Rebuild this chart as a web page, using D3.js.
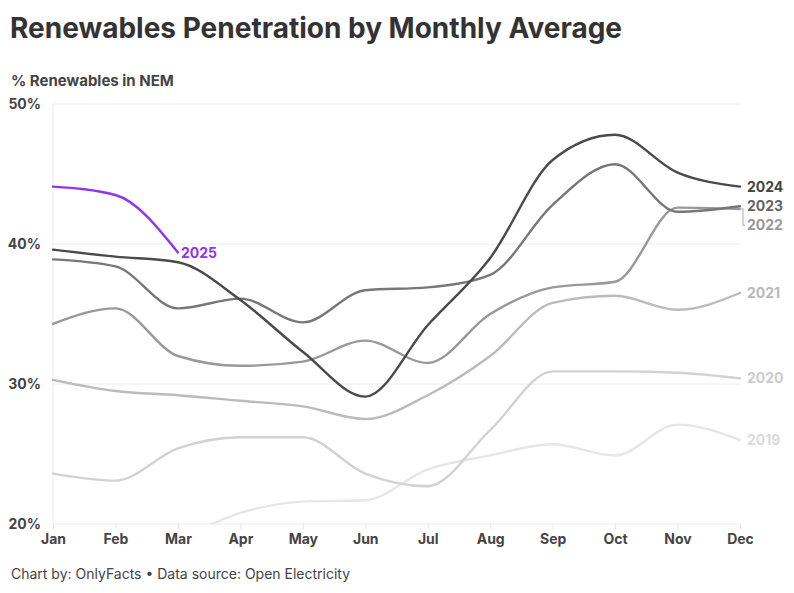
<!DOCTYPE html>
<html>
<head>
<meta charset="utf-8">
<script src="https://cdn.jsdelivr.net/npm/d3@7"></script>
<style>
  body { margin: 0; background: #fff; font-family: Inter, "Open Sans", sans-serif; }
  svg text { font-family: Inter, "Open Sans", sans-serif; }
</style>
</head>
<body>
<div id="chart"></div>
<script>
// months on the x axis
var months = ["Jan", "Feb", "Mar", "Apr", "May", "Jun", "Jul", "Aug", "Sep", "Oct", "Nov", "Dec"];

// % renewables per month
var y2019 = [17.8, 18.3, 19.0, 20.8, 21.6, 21.7, 23.9, 24.9, 25.7, 24.9, 27.1, 26.0];
var y2020 = [23.6, 23.1, 25.4, 26.2, 26.2, 23.6, 22.7, 26.7, 30.9, 30.9, 30.8, 30.4];
var y2021 = [30.3, 29.5, 29.2, 28.8, 28.4, 27.5, 29.2, 32.0, 35.8, 36.3, 35.3, 36.5];
var y2022 = [34.3, 35.4, 32.0, 31.3, 31.6, 33.1, 31.5, 35.0, 36.9, 37.3, 42.6, 42.5];
var y2023 = [38.9, 38.4, 35.4, 36.1, 34.4, 36.7, 36.9, 37.8, 42.8, 45.7, 42.3, 42.7];
var y2024 = [39.6, 39.1, 38.7, 36.0, 32.3, 29.1, 34.2, 39.0, 46.0, 47.8, 45.1, 44.1];
var y2025 = [44.1, 43.5, 39.4];

var yTicks = [20, 30, 40, 50];

var series = [
  { name: "2019", values: y2019, color: "#e6e6e6", label: "#dadada" },
  { name: "2020", values: y2020, color: "#d2d2d2", label: "#cccccc" },
  { name: "2021", values: y2021, color: "#bbbbbb", label: "#b9b9b9" },
  { name: "2022", values: y2022, color: "#999999", label: "#999999" },
  { name: "2023", values: y2023, color: "#777777", label: "#666666" },
  { name: "2024", values: y2024, color: "#4a4a4a", label: "#444444" },
  { name: "2025", values: y2025, color: "#8f34f0", label: "#8f34f0" }
];

var width = 794, height = 593;
var margin = { top: 104, right: 54, bottom: 69, left: 53 };
var chartWidth = width - margin.left - margin.right;
var chartHeight = height - margin.top - margin.bottom;

var svg = d3.select("#chart").append("svg")
    .attr("width", width)
    .attr("height", height);

// titles
svg.append("text")
    .attr("x", 10).attr("y", 38)
    .attr("font-size", 28).attr("font-weight", 700)
    .attr("fill", "#333")
    .text("Renewables Penetration by Monthly Average");

svg.append("text")
    .attr("x", 11).attr("y", 86)
    .attr("font-size", 15).attr("font-weight", 700)
    .attr("fill", "#444")
    .text("% Renewables in NEM");

svg.append("text")
    .attr("x", 11).attr("y", 579)
    .attr("font-size", 14).attr("font-weight", 400)
    .attr("fill", "#444")
    .text("Chart by: OnlyFacts \u2022 Data source: Open Electricity");

var chartGroup = svg.append("g")
    .attr("transform", `translate(${margin.left}, ${margin.top})`);

var x = d3.scalePoint()
    .domain(months)
    .range([0, chartWidth]);

var y = d3.scaleLinear()
    .domain([20, 50])
    .range([chartHeight, 0]);

// clip so nothing draws below 20%
chartGroup.append("clipPath").attr("id", "plot-clip")
  .append("rect")
    .attr("x", -5).attr("y", -5)
    .attr("width", chartWidth + 10).attr("height", chartHeight + 5);

// grid lines
chartGroup.append("g")
  .selectAll("line")
  .data(yTicks)
  .enter().append("line")
    .attr("x1", 0).attr("x2", chartWidth)
    .attr("y1", d => y(d)).attr("y2", d => y(d))
    .attr("stroke", "#ececec");

chartGroup.append("line")
    .attr("x1", 0).attr("x2", 0)
    .attr("y1", 0).attr("y2", chartHeight)
    .attr("stroke", "#ececec");

// y axis
var leftAxis = d3.axisLeft(y).tickValues(yTicks).tickSize(0).tickPadding(12)
    .tickFormat(d => d + "%");
var yAxis = chartGroup.append("g").call(leftAxis);
yAxis.select(".domain").remove();
yAxis.selectAll("text")
    .attr("font-size", 14).attr("font-weight", 700).attr("fill", "#444");

// x axis
var bottomAxis = d3.axisBottom(x).tickSize(5).tickPadding(5);
var xAxis = chartGroup.append("g")
    .attr("transform", `translate(0, ${chartHeight})`)
    .call(bottomAxis);
xAxis.select(".domain").remove();
xAxis.selectAll("line").attr("stroke", "#e6e6e6");
xAxis.selectAll("text")
    .attr("font-size", 14).attr("font-weight", 700).attr("fill", "#444");

// lines
var line = d3.line()
    .x((d, i) => x(months[i]))
    .y(d => y(d))
    .curve(d3.curveMonotoneX);

chartGroup.append("g")
    .attr("clip-path", "url(#plot-clip)")
  .selectAll("path")
  .data(series)
  .enter().append("path")
    .attr("d", d => line(d.values))
    .attr("fill", "none")
    .attr("stroke", d => d.color)
    .attr("stroke-width", 2.4)
    .attr("stroke-linecap", "round");

// end labels for full years, pushed apart when they collide
var full = series.filter(s => s.values.length === 12)
    .map(s => ({ s: s, target: y(s.values[11]) }))
    .sort((a, b) => a.target - b.target);
var prev = -Infinity;
full.forEach(function(d) {
  d.pos = Math.max(d.target, prev + 19);
  prev = d.pos;
});

var labels = chartGroup.append("g");
full.forEach(function(d) {
  if (d.pos - d.target > 3) {
    labels.append("path")
        .attr("d", `M${chartWidth},${d.target}H${chartWidth + 3}V${d.pos}H${chartWidth + 5}`)
        .attr("fill", "none")
        .attr("stroke", "#c4c4c4")
        .attr("stroke-width", 1.4);
  }
  labels.append("text")
      .attr("x", chartWidth + 7)
      .attr("y", d.pos)
      .attr("dy", "0.35em")
      .attr("font-size", 14).attr("font-weight", 700)
      .attr("fill", d.s.label)
      .text(d.s.name);
});

// label at the end of the current year
var cur = series[series.length - 1];
var last = cur.values.length - 1;
labels.append("text")
    .attr("x", x(months[last]) + 3)
    .attr("y", y(cur.values[last]) + 1)
    .attr("dy", "0.35em")
    .attr("font-size", 14).attr("font-weight", 700)
    .attr("fill", cur.label)
    .text(cur.name);
</script>
</body>
</html>
